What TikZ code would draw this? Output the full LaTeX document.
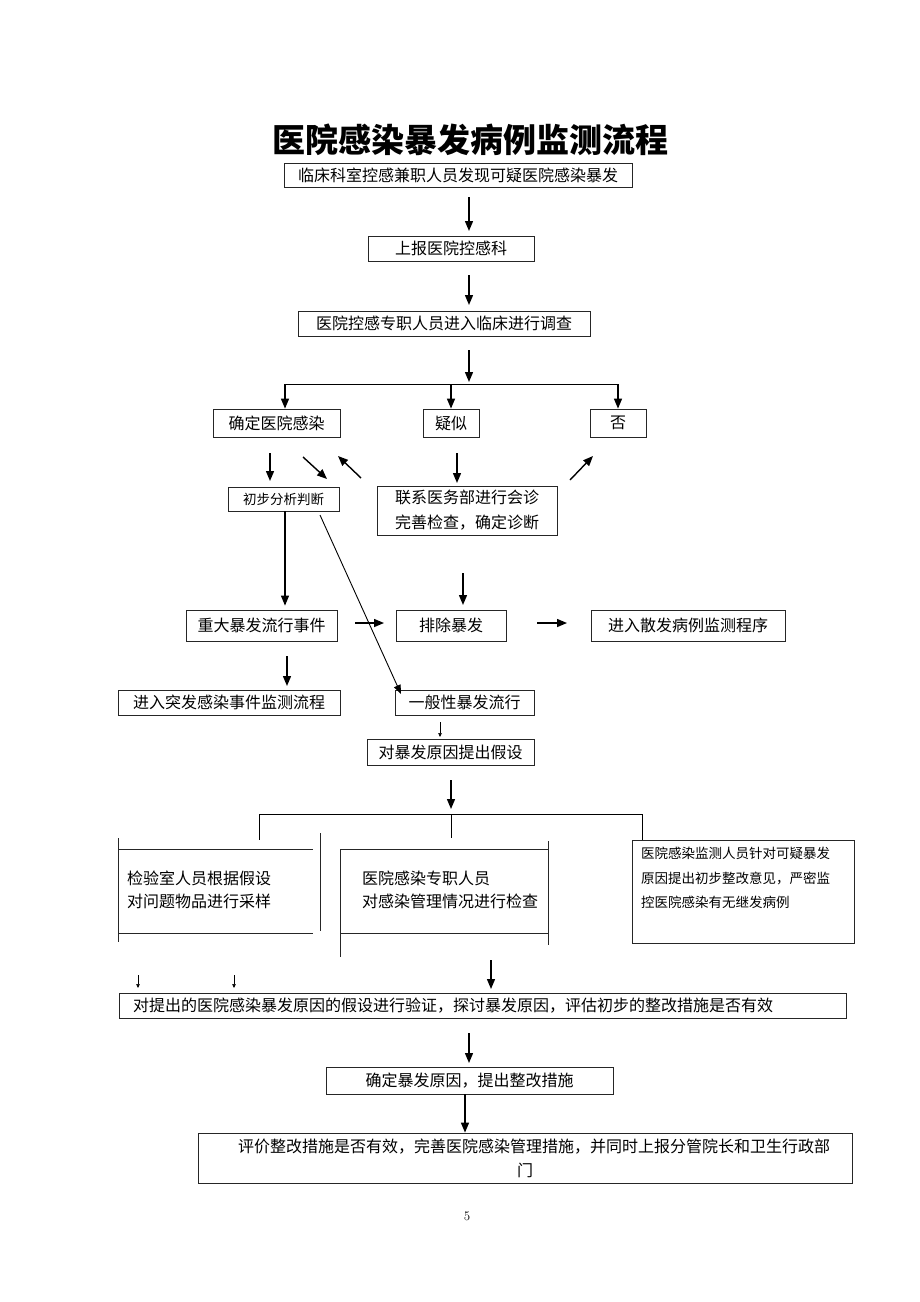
\documentclass[tikz,border=0pt]{standalone}
\usepackage{fontspec}
\newfontfamily\cjk{Noto Sans CJK SC}
\usetikzlibrary{arrows.meta}
\begin{document}
\begin{tikzpicture}[x=1pt,y=-1pt,
  box/.style={draw=black!85, line width=0.8pt, inner sep=0pt, font=\cjk\fontsize{16}{20}\selectfont},
  sbox/.style={draw=black!85, line width=0.8pt, inner sep=0pt, font=\cjk\fontsize{13.5}{16}\selectfont},
  txt/.style={inner sep=0pt, font=\cjk\fontsize{16}{23}\selectfont, align=left},
  stxt/.style={inner sep=0pt, font=\cjk\fontsize{13.5}{24.5}\selectfont, align=left},
  arr/.style={line width=1.4pt, -{Triangle[length=10pt,width=8pt]}},
  darr/.style={line width=0.9pt, -{Triangle[length=9pt,width=7pt]}},
  sarr/.style={line width=0.5pt, -{Triangle[length=4pt,width=3.5pt]}},
  ln/.style={line width=0.8pt, black!85}]
\useasboundingbox[fill=white] (0,0) rectangle (920,1302);

% title
\node[inner sep=0pt, font=\cjk\bfseries\fontsize{33}{36}\selectfont] (title) at (470,140) {医院感染暴发病例监测流程};

% boxes
\node[box, minimum width=348, minimum height=24] (b1) at (458,175) {临床科室控感兼职人员发现可疑医院感染暴发};
\node[box, minimum width=166, minimum height=25] (b2) at (451,248.5) {上报医院控感科};
\node[box, minimum width=292, minimum height=25] (b3) at (444,323.5) {医院控感专职人员进入临床进行调查};
\node[box, minimum width=127, minimum height=28] (b4) at (276.5,423) {确定医院感染};
\node[box, minimum width=56, minimum height=28] (b5) at (451,423) {疑似};
\node[box, minimum width=56, minimum height=28] (b6) at (618,423) {否};
\node[sbox, minimum width=111, minimum height=24] (b7) at (283.5,499) {初步分析判断};
\node[box, minimum width=180, minimum height=49, align=center, font=\cjk\fontsize{16}{25}\selectfont] (b8) at (467,510.5) {联系医务部进行会诊\\完善检查，确定诊断};
\node[box, minimum width=151, minimum height=31] (b9) at (261.5,625.5) {重大暴发流行事件};
\node[box, minimum width=110, minimum height=31] (b10) at (451,625.5) {排除暴发};
\node[box, minimum width=194, minimum height=31] (b11) at (688,625.5) {进入散发病例监测程序};
\node[box, minimum width=222, minimum height=25] (b12) at (229,702.5) {进入突发感染事件监测流程};
\node[box, minimum width=139, minimum height=25] (b13) at (464.5,702.5) {一般性暴发流行};
\node[box, minimum width=167, minimum height=26] (b14) at (450.5,752) {对暴发原因提出假设};

% three-column row
\coordinate (L1) at (118,838); \coordinate (L2) at (118,942);
\coordinate (L3) at (118,849); \coordinate (L4) at (313,849);
\coordinate (L5) at (118,933); \coordinate (L6) at (313,933);
\coordinate (L7) at (320,833); \coordinate (L8) at (320,931);
\draw[ln] (L1) -- (L2); \draw[ln] (L3) -- (L4); \draw[ln] (L5) -- (L6); \draw[ln] (L7) -- (L8);
\node[txt, anchor=west] (t15) at (127,889.5) {检验室人员根据假设\\对问题物品进行采样};

\coordinate (M1) at (340,849); \coordinate (M2) at (548,849);
\coordinate (M3) at (340,957); \coordinate (M4) at (548,841);
\coordinate (M5) at (548,945); \coordinate (M6) at (340,933); \coordinate (M7) at (548,933);
\draw[ln] (M1) -- (M2); \draw[ln] (M1) -- (M3); \draw[ln] (M4) -- (M5); \draw[ln] (M6) -- (M7);
\node[txt, anchor=west] (t16) at (362,889.5) {医院感染专职人员\\对感染管理情况进行检查};

\node[draw=black!85, line width=0.8pt, inner sep=0pt, minimum width=222, minimum height=103] (b17) at (743,891.5) {};
\node[stxt, anchor=west] (t17) at (641,878) {医院感染监测人员针对可疑暴发\\原因提出初步整改意见，严密监\\控医院感染有无继发病例};

\node[draw=black!85, line width=0.8pt, inner sep=0pt, minimum width=727, minimum height=25] (b18) at (482.5,1005.5) {};
\node[txt, anchor=west] (t18) at (133,1005.5) {对提出的医院感染暴发原因的假设进行验证，探讨暴发原因，评估初步的整改措施是否有效};
\node[box, minimum width=287, minimum height=27] (b19) at (469.5,1080.5) {确定暴发原因，提出整改措施};
\node[draw=black!85, line width=0.8pt, inner sep=0pt, minimum width=654, minimum height=50] (b20) at (525,1158) {};
\node[txt, anchor=west] (t20a) at (238,1147) {评价整改措施是否有效，完善医院感染管理措施，并同时上报分管院长和卫生行政部};
\node[txt] (t20b) at (525,1170) {门};

\node[inner sep=0pt, font=\fontsize{13}{15}\selectfont] (pg) at (467,1216) {5};

% connectors
\coordinate (a1s) at (469,197); \coordinate (a1e) at (469,231);
\draw[arr] (a1s) -- (a1e);
\coordinate (a2s) at (469,275); \coordinate (a2e) at (469,305);
\draw[arr] (a2s) -- (a2e);
\coordinate (a3s) at (469,350); \coordinate (a3e) at (469,382);
\draw[arr] (a3s) -- (a3e);
\coordinate (jL) at (285,384); \coordinate (jM) at (451,384); \coordinate (jR) at (618,384);
\draw[ln, black] (jL) -- (jR);
\draw[arr] (jL) -- (jL |- b4.north);
\draw[arr] (jM) -- (b5.north);
\draw[arr] (jR) -- (b6.north);

\coordinate (c1s) at (270,453); \coordinate (c1e) at (270,481);
\draw[arr] (c1s) -- (c1e);
\coordinate (c2s) at (303,457); \coordinate (c2e) at (327,479);
\draw[arr] (c2s) -- (c2e);
\coordinate (c3s) at (361,478); \coordinate (c3e) at (338,456);
\draw[arr] (c3s) -- (c3e);
\coordinate (c4s) at (457,453); \coordinate (c4e) at (457,483);
\draw[arr] (c4s) -- (c4e);
\coordinate (c5s) at (570,480); \coordinate (c5e) at (593,456);
\draw[arr] (c5s) -- (c5e);

\draw[arr, line width=1.1pt] (b7.south -| 285,0) -- ([yshift=4pt]b9.north -| 285,0);
\coordinate (dS) at (320,515); \coordinate (dE) at (401,694);
\draw[darr] (dS) -- (dE);
\coordinate (e1s) at (463,573); \coordinate (e1e) at (463,605);
\draw[arr] (e1s) -- (e1e);
\coordinate (e2s) at (355,623); \coordinate (e2e) at (384,623);
\draw[arr] (e2s) -- (e2e);
\coordinate (e3s) at (537,623); \coordinate (e3e) at (567,623);
\draw[arr] (e3s) -- (e3e);
\coordinate (e4s) at (287,656); \coordinate (e4e) at (287,686);
\draw[arr] (e4s) -- (e4e);
\coordinate (e5s) at (440,722); \coordinate (e5e) at (440,737);
\draw[sarr] (e5s) -- (e5e);

\coordinate (f1s) at (451,780); \coordinate (f1e) at (451,809);
\draw[arr] (f1s) -- (f1e);
\coordinate (hL) at (259,814); \coordinate (hM) at (451,814); \coordinate (hR) at (642,814);
\draw[ln, black] (hL) -- (hR);
\coordinate (hLb) at (259,840); \coordinate (hMb) at (451,838);
\draw[ln, black] (hL) -- (hLb);
\draw[ln, black] (hM) -- (hMb);
\draw[ln, black] (hR) -- (hR |- b17.north);

\coordinate (g1s) at (138,975); \coordinate (g1e) at (138,988);
\draw[sarr] (g1s) -- (g1e);
\coordinate (g2s) at (234,975); \coordinate (g2e) at (234,988);
\draw[sarr] (g2s) -- (g2e);
\coordinate (g3s) at (491,960); \coordinate (g3e) at (491,989);
\draw[arr] (g3s) -- (g3e);
\coordinate (k1s) at (469,1033); \coordinate (k1e) at (469,1063);
\draw[arr] (k1s) -- (k1e);
\draw[arr] (b19.south -| 465,0) -- (b20.north -| 465,0);
\end{tikzpicture}
\end{document}
